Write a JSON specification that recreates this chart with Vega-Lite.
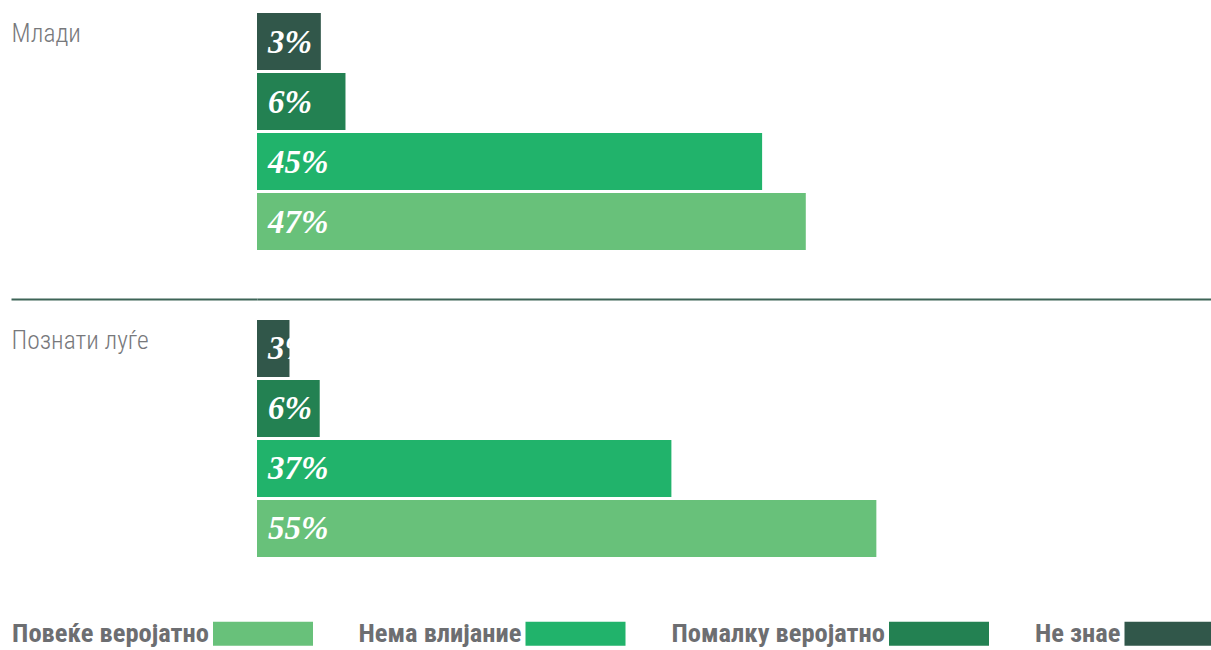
{
  "$schema": "https://vega.github.io/schema/vega-lite/v6.json",
  "autosize": "none",
  "width": 954,
  "height": 570,
  "padding": {"left": 257, "top": 0, "right": 0, "bottom": 80},
  "background": "#ffffff",
  "config": {"view": {"stroke": null}},
  "data": {
    "values": [
      {"group": "Млади", "category": "Не знае", "value": 5.7, "label": "3%"},
      {"group": "Млади", "category": "Помалку веројатно", "value": 7.9, "label": "6%"},
      {"group": "Млади", "category": "Нема влијание", "value": 45.1, "label": "45%"},
      {"group": "Млади", "category": "Повеќе веројатно", "value": 49.0, "label": "47%"},
      {"group": "Познати луѓе", "category": "Не знае", "value": 2.9, "label": "3%"},
      {"group": "Познати луѓе", "category": "Помалку веројатно", "value": 5.6, "label": "6%"},
      {"group": "Познати луѓе", "category": "Нема влијание", "value": 37.0, "label": "37%"},
      {"group": "Познати луѓе", "category": "Повеќе веројатно", "value": 55.3, "label": "55%"}
    ]
  },
  "encoding": {
    "y": {
      "field": "group",
      "type": "nominal",
      "sort": ["Млади", "Познати луѓе"],
      "scale": {"paddingInner": 0.21824, "paddingOuter": 0.03746},
      "axis": {
        "title": null,
        "orient": "left",
        "domain": false,
        "bandPosition": 0,
        "tickOffset": -19.5,
        "ticks": true,
        "tickSize": 246,
        "tickWidth": 2,
        "tickColor": "#3d6457",
        "grid": true,
        "gridWidth": 2,
        "gridColor": "#3d6457",
        "labelAlign": "left",
        "labelBaseline": "alphabetic",
        "labelPadding": 0,
        "labelOffset": -70.3,
        "labelFont": "'Roboto Condensed', 'Liberation Sans Narrow', 'DejaVu Sans Condensed', sans-serif",
        "labelFontWeight": 300,
        "labelFontSize": 25.5,
        "labelColor": "#77787b",
        "labelLimit": 300
      }
    },
    "yOffset": {
      "field": "category",
      "type": "nominal",
      "sort": ["Не знае", "Помалку веројатно", "Нема влијание", "Повеќе веројатно"],
      "scale": {"paddingInner": 0.05, "paddingOuter": 0.025}
    }
  },
  "layer": [
    {
      "mark": {"type": "bar", "opacity": 1},
      "encoding": {
        "x": {
          "field": "value",
          "type": "quantitative",
          "scale": {"domain": [0, 85.18], "nice": false},
          "axis": null
        },
        "color": {
          "field": "category",
          "type": "nominal",
          "scale": {
            "domain": ["Повеќе веројатно", "Нема влијание", "Помалку веројатно", "Не знае"],
            "range": ["#68c17a", "#21b36b", "#238152", "#31574a"]
          },
          "legend": {
            "orient": "none",
            "legendX": -44,
            "legendY": 583.5,
            "direction": "horizontal",
            "title": null,
            "padding": 0,
            "symbolType": "M-1,-0.24H1V0.24H-1Z",
            "symbolSize": 10000,
            "symbolStrokeWidth": 0,
            "symbolOpacity": 1,
            "labelAlign": "right",
            "labelOffset": -104,
            "labelBaseline": "middle",
            "labelFont": "'Roboto Condensed', 'Liberation Sans Narrow', 'DejaVu Sans Condensed', sans-serif",
            "labelFontSize": 26.5,
            "labelFontWeight": "bold",
            "labelColor": "#6d6e71",
            "labelLimit": 400,
            "columnPadding": 45.5
          }
        }
      }
    },
    {
      "mark": {
        "type": "text",
        "align": "left",
        "baseline": "middle",
        "dx": 11,
        "dy": 1,
        "font": "'Liberation Serif', 'DejaVu Serif', serif",
        "fontStyle": "italic",
        "fontWeight": "bold",
        "fontSize": 33,
        "color": "#ffffff"
      },
      "encoding": {
        "x": {"datum": 0, "type": "quantitative"},
        "text": {"field": "label", "type": "nominal"}
      }
    }
  ]
}
